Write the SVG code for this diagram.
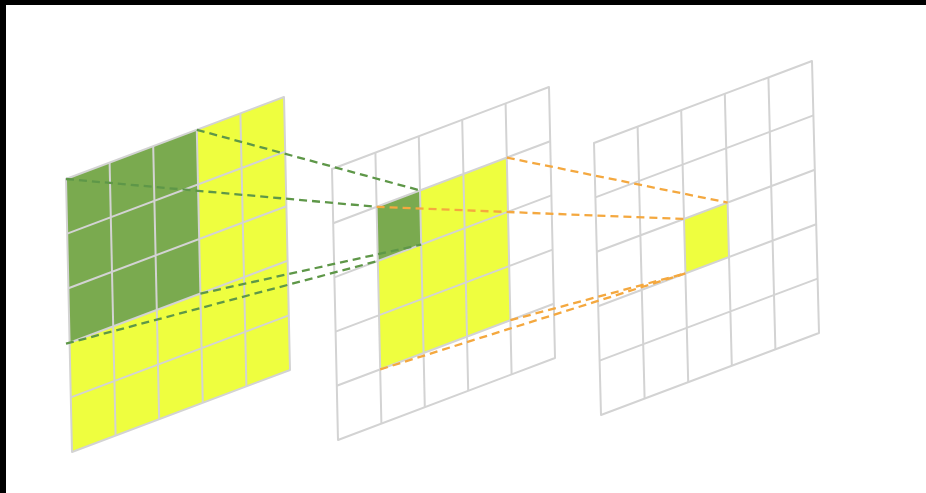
<svg xmlns="http://www.w3.org/2000/svg" width="926" height="493" viewBox="0 0 926 493">
  <style>
    .grid { fill: none; stroke: #d3d3d3; stroke-width: 2; stroke-linejoin: round; }
    .yellow { fill: #eefe3f; stroke: none; }
    .green { fill: #7aaa4f; stroke: none; }
    .dg { fill: none; stroke: #5e9748; stroke-width: 2.3; stroke-dasharray: 8 5; }
    .do { fill: none; stroke: #f4a83f; stroke-width: 2.3; stroke-dasharray: 8 5; }
  </style>
  <rect x="0" y="0" width="926" height="493" fill="#ffffff"/>
  <rect x="0" y="0" width="926" height="5" fill="#000000"/>
  <rect x="0" y="0" width="6" height="493" fill="#000000"/>

  <g id="layer-input">
    <polygon class="yellow" points="66,179 284,97 290,370 72,452"/>
    <polygon class="green" points="66,179 196.8,129.8 200.4,293.6 69.6,342.8"/>
    <polygon class="grid" points="66,179 284,97 290,370 72,452"/>
    <path class="grid" d="M109.6,162.6 L115.6,435.6 M153.2,146.2 L159.2,419.2 M196.8,129.8 L202.8,402.8 M240.4,113.4 L246.4,386.4
      M67.2,233.6 L285.2,151.6 M68.4,288.2 L286.4,206.2 M69.6,342.8 L287.6,260.8 M70.8,397.4 L288.8,315.4"/>
  </g>

  <g id="layer-hidden">
    <polygon class="yellow" points="376.6,206.8 506.8,157.6 510.4,320.2 380.2,369.4"/>
    <polygon class="green" points="376.6,206.8 420,190.4 421.2,244.6 377.8,261"/>
    <polygon class="grid" points="332,169 549,87 555,358 338,440"/>
    <path class="grid" d="M375.4,152.6 L381.4,423.6 M418.8,136.2 L424.8,407.2 M462.2,119.8 L468.2,390.8 M505.6,103.4 L511.6,374.4
      M333.2,223.2 L550.2,141.2 M334.4,277.4 L551.4,195.4 M335.6,331.6 L552.6,249.6 M336.8,385.8 L553.8,303.8"/>
  </g>

  <g id="layer-output">
    <polygon class="yellow" points="684,219 727.6,202.6 729,257 685.4,273.4"/>
    <polygon class="grid" points="594,143 812,61 819,333 601,415"/>
    <path class="grid" d="M637.6,126.6 L644.6,398.6 M681.2,110.2 L688.2,382.2 M724.8,93.8 L731.8,365.8 M768.4,77.4 L775.4,349.4
      M595.4,197.4 L813.4,115.4 M596.8,251.8 L814.8,169.8 M598.2,306.2 L816.2,224.2 M599.6,360.6 L817.6,278.6"/>
  </g>

  <g id="connectors">
    <line class="dg" x1="196.8" y1="129.8" x2="420" y2="190.4"/>
    <line class="dg" x1="66" y1="179" x2="376.6" y2="206.8"/>
    <line class="dg" x1="200.4" y1="293.6" x2="421.2" y2="244.6"/>
    <line class="dg" x1="66" y1="343.7" x2="377.8" y2="261"/>
    <line class="do" x1="506.8" y1="157.6" x2="727.6" y2="202.6"/>
    <line class="do" x1="376.6" y1="206.8" x2="684" y2="219"/>
    <line class="do" x1="510.4" y1="320.2" x2="685.4" y2="273.4"/>
    <line class="do" x1="380.2" y1="369.4" x2="685.4" y2="273.4"/>
  </g>
</svg>
